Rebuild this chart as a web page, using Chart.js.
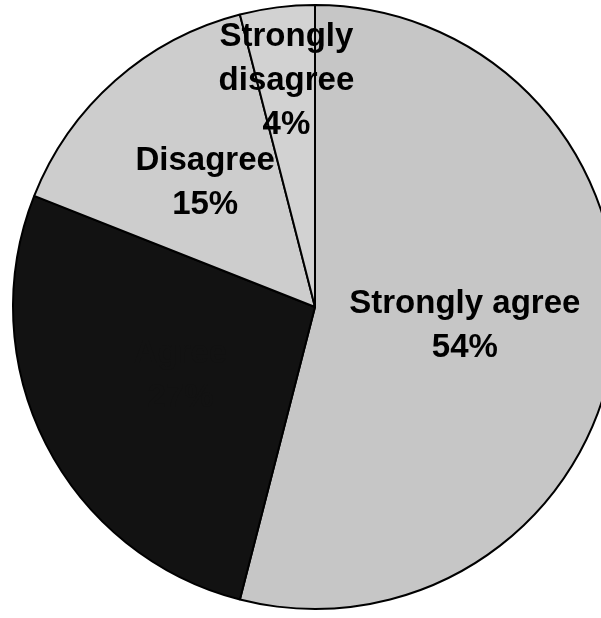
<!DOCTYPE html>
<html>
<head>
<meta charset="utf-8">
<script src="https://cdn.jsdelivr.net/npm/chart.js@4/dist/chart.umd.min.js"></script>
<style>
  html, body { margin: 0; padding: 0; background: #fff; overflow: hidden; }
  #wrap { position: absolute; left: 0; top: 0; width: 601px; height: 618px; overflow: hidden; }
  canvas { display: block; }
</style>
</head>
<body>
<div id="wrap"><canvas id="pie" width="640" height="618"></canvas></div>
<script>
// Survey responses, share of answers in percent
const categories = ['Strongly agree', 'Agree', 'Disagree', 'Strongly disagree'];
const percentages = [54, 27, 15, 4];

// Slice fills (greyscale print), label ink and label placement as a fraction of the radius
const sliceColors = ['#c6c6c6', '#121212', '#cdcdcd', '#d2d2d2'];
const labelColors = ['#000', '#121212', '#000', '#000'];
const labelRadius = [0.5, 0.5, 0.55, 0.755];

const FONT = 'bold 33px "Liberation Sans", Arial, Helvetica, sans-serif';
const LINE_GAP = 44;

// Draws "category / value%" inside each slice
const sliceLabels = {
  id: 'sliceLabels',
  afterDatasetsDraw(chart) {
    const ctx = chart.ctx;
    const meta = chart.getDatasetMeta(0);
    ctx.save();
    ctx.font = FONT;
    ctx.textAlign = 'center';
    ctx.textBaseline = 'middle';
    meta.data.forEach((arc, i) => {
      const p = arc.getProps(['x', 'y', 'startAngle', 'endAngle', 'outerRadius'], true);
      const mid = (p.startAngle + p.endAngle) / 2;
      const r = p.outerRadius * labelRadius[i];
      const cx = p.x + Math.cos(mid) * r;
      const cy = p.y + Math.sin(mid) * r;
      const value = chart.data.datasets[0].data[i];
      // narrow slices get their category split over several lines
      const nameLines = value < 10 ? categories[i].split(' ') : [categories[i]];
      const lines = nameLines.concat([value + '%']);
      const top = cy - (lines.length - 1) * LINE_GAP / 2;
      ctx.fillStyle = labelColors[i];
      lines.forEach((t, k) => ctx.fillText(t, cx, top + k * LINE_GAP));
    });
    ctx.restore();
  }
};

new Chart(document.getElementById('pie'), {
  type: 'pie',
  data: {
    labels: categories,
    datasets: [{
      data: percentages,
      backgroundColor: sliceColors,
      borderColor: '#000',
      borderWidth: 2,
      hoverOffset: 0,
      radius: 302
    }]
  },
  options: {
    responsive: false,
    animation: false,
    devicePixelRatio: 1,
    layout: { padding: { left: 11, right: 21, top: 3, bottom: 7 } },
    plugins: {
      legend: { display: false },
      tooltip: { enabled: false }
    }
  },
  plugins: [sliceLabels]
});
</script>
</body>
</html>
